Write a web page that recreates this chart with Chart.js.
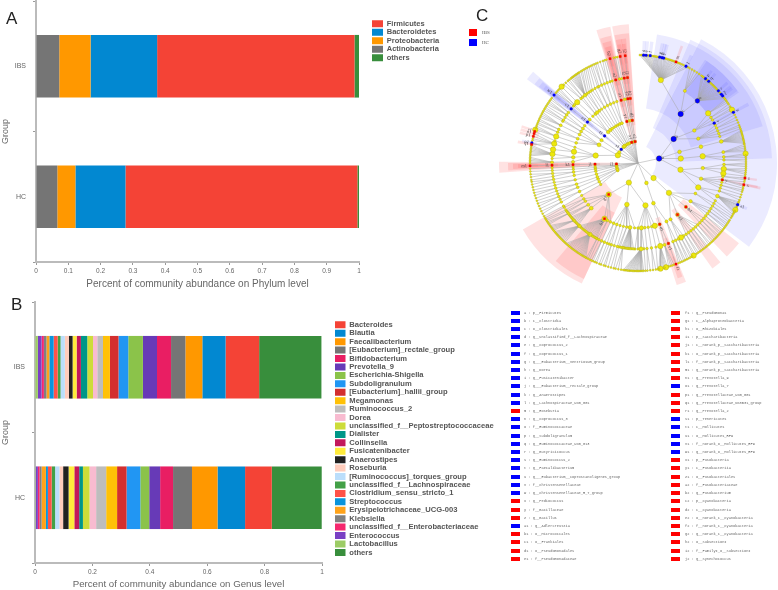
<!DOCTYPE html>
<html>
<head>
<meta charset="utf-8">
<title>Community abundance and LEfSe cladogram</title>
<script src="https://cdn.jsdelivr.net/npm/chart.js@4"></script>
<style>
  html, body { margin: 0; background: #fff; overflow: hidden; }
  body { width: 778px; height: 590px; position: relative; font-family: "Liberation Sans", sans-serif; }
  canvas { position: absolute; }
  .panel { position: absolute; font-size: 17px; line-height: 17px; color: #222; }
  .row { position: absolute; height: 8px; white-space: pre; font: 3.65px/8px "Liberation Mono", monospace; color: #666; }
  .swatch { position: absolute; width: 9px; height: 4px; top: 2px; }
  .key { position: absolute; width: 8px; height: 7px; }
  .keytext { position: absolute; font: 5px/7px "Liberation Serif", serif; color: #555; }
</style>
</head>
<body>
<canvas id="phylumChart" width="460" height="290" style="left:0;top:0"></canvas>
<canvas id="genusChart" width="500" height="295" style="left:0;top:295px"></canvas>
<canvas id="cladeChart" width="320" height="320" style="left:478px;top:3px"></canvas>
<div class="panel" style="left:6px;top:10px">A</div>
<div class="panel" style="left:11px;top:296px">B</div>
<div class="panel" style="left:476px;top:7px">C</div>
<div id="features"></div>
<script>
// panel A
const groups = ['IBS', 'HC'];
const phylumNames = ['Firmicutes', 'Bacteroidetes', 'Proteobacteria', 'Actinobacteria', 'others'];
const phylumIBS = [0.611, 0.206, 0.097, 0.072, 0.014];
const phylumHC = [0.718, 0.155, 0.056, 0.066, 0.005];
const phylumColors = ['#F44336', '#0288D1', '#FF9800', '#757575', '#388E3C'];

// panel B
const genusNames = ['Bacteroides', 'Blautia', 'Faecalibacterium', '[Eubacterium]_rectale_group', 'Bifidobacterium',
  'Prevotella_9', 'Escherichia-Shigella', 'Subdoligranulum', '[Eubacterium]_hallii_group', 'Megamonas',
  'Ruminococcus_2', 'Dorea', 'unclassified_f__Peptostreptococcaceae', 'Dialister', 'Collinsella',
  'Fusicatenibacter', 'Anaerostipes', 'Roseburia', '[Ruminococcus]_torques_group', 'unclassified_f__Lachnospiraceae',
  'Clostridium_sensu_stricto_1', 'Streptococcus', 'Erysipelotrichaceae_UCG-003', 'Klebsiella',
  'unclassified_f__Enterobacteriaceae', 'Enterococcus', 'Lactobacillus', 'others'];
const genusIBS = [0.117, 0.081, 0.059, 0.050, 0.049, 0.049, 0.051, 0.034, 0.030, 0.024, 0.020, 0.015, 0.020, 0.022,
  0.015, 0.014, 0.013, 0.014, 0.015, 0.010, 0.014, 0.015, 0.010, 0.009, 0.008, 0.013, 0.010, 0.217];
const genusHC = [0.093, 0.096, 0.089, 0.066, 0.045, 0.038, 0.031, 0.048, 0.033, 0.038, 0.035, 0.023, 0.023, 0.013,
  0.017, 0.020, 0.019, 0.013, 0.015, 0.012, 0.013, 0.007, 0.015, 0.007, 0.006, 0.007, 0.003, 0.174];
const genusColors = ['#F44336', '#0288D1', '#FF9800', '#757575', '#E91E63', '#673AB7', '#8BC34A', '#2196F3', '#D32F2F',
  '#FFC107', '#BDBDBD', '#F8BBD0', '#CDDC39', '#009688', '#C2185B', '#FFEB3B', '#212121', '#FFCCBC', '#BBDEFB',
  '#43A047', '#FF5248', '#0A94DC', '#FFA31A', '#808080', '#F5286E', '#7A40C4', '#9CCC65', '#388E3C'];

// panel C list, 'I' = IBS, 'H' = HC
const featuresLeft = ['a : p__Firmicutes', 'b : c__Clostridia', 'c : o__Clostridiales', 'd : g__unclassified_f__Lachnospiraceae',
  'e : g__Coprococcus_2', 'f : g__Coprococcus_1', 'g : g___Eubacterium__ventriosum_group', 'h : g__Dorea',
  'i : g__Fusicatenibacter', 'j : g___Eubacterium__rectale_group', 'k : g__Anaerostipes', 'l : g__Lachnospiraceae_UCG_001',
  'm : g__Roseburia', 'n : g__Coprococcus_3', 'o : f__Ruminococcaceae', 'p : g__Subdoligranulum',
  'q : g__Ruminococcaceae_UCG_013', 'r : g__Butyricicoccus', 's : g__Ruminococcus_2', 't : g__Faecalibacterium',
  'u : g___Eubacterium__coprostanoligenes_group', 'v : f__Christensenellaceae', 'w : g__Christensenellaceae_R_7_group',
  'x : g__Pediococcus', 'y : f__Bacillaceae', 'z : g__Bacillus', 'a1 : g__Adlercreutzia', 'b1 : o__Micrococcales',
  'c1 : o__Frankiales', 'd1 : o__Pseudomonadales', 'e1 : f__Pseudomonadaceae'];
const featuresLeftGroup = 'HHHHHHHHHHHHIHHHHHHHHHHIIIHIIII';
const featuresRight = ['f1 : g__Pseudomonas', 'g1 : c__Alphaproteobacteria', 'h1 : o__Rhizobiales', 'i1 : p__Saccharibacteria',
  'j1 : c__norank_p__Saccharibacteria', 'k1 : o__norank_p__Saccharibacteria', 'l1 : f__norank_p__Saccharibacteria',
  'm1 : g__norank_p__Saccharibacteria', 'n1 : g__Prevotella_9', 'o1 : g__Prevotella_7', 'p1 : g__Prevotellaceae_UCG_001',
  'q1 : g__Prevotellaceae_NK3B31_group', 'r1 : g__Prevotella_2', 's1 : p__Tenericutes', 't1 : c__Mollicutes',
  'u1 : o__Mollicutes_RF9', 'v1 : f__norank_o__Mollicutes_RF9', 'w1 : g__norank_o__Mollicutes_RF9', 'x1 : p__Fusobacteria',
  'y1 : c__Fusobacteriia', 'z1 : o__Fusobacteriales', 'a2 : f__Fusobacteriaceae', 'b2 : g__Fusobacterium',
  'c2 : p__Cyanobacteria', 'd2 : c__Cyanobacteria', 'e2 : o__norank_c__Cyanobacteria', 'f2 : f__norank_c__Cyanobacteria',
  'g2 : g__norank_c__Cyanobacteria', 'h2 : o__SubsectionI', 'i2 : f__FamilyI_o__SubsectionI', 'j2 : g__Synechococcus'];
const featuresRightGroup = 'IIIIIIIIIHIIIHHHHHIIIIIIIIIIIII';

// panel C tree, angles in degrees clockwise from the top, [parent, [children]]
const phylumAngles = [78, 134, 157, 205, 250, 254, 258, 262, 264, 267.5, 291, 300, 309, 318, 322, 326, 330, 334, 338, 343, 347, 350, 352.5];
const classFans = [[78, [56, 75, 84, 99]], [134, [134]], [157, [159]], [205, [170, 195, 223]], [250, [240, 244]], [254, [248, 251]],
  [258, [255]], [262, [259, 262]], [264, [264, 266]], [267.5, [268.5]], [291, [280, 295]], [300, [302]], [309, [309]], [318, [316]],
  [322, [320, 323]], [326, [326]], [330, [329, 332]], [334, [335]], [338, [338]], [343, [345]], [347, [348]], [350, [350]], [352.5, [352.4]]];
const orderFans = [[56, [41, 60, 68]], [75, [75.5]], [84, [84]], [99, [94.5, 104, 112]], [134, [118, 126, 132.5, 142.6, 150]],
  [159, [154, 160.5]], [170, [165, 168, 171, 174, 177, 180]], [195, [183, 187, 190, 193, 196, 199, 202]],
  [223, [205, 208, 211, 226, 230, 234, 236.5]], [240, [240]], [244, [244]], [248, [248]], [251, [251]], [255, [255]], [259, [259]],
  [262, [262]], [264, [264.5]], [266, [266.5]], [268.5, [268.5]], [280, [271, 275, 280, 284]], [295, [288, 292, 296, 299]],
  [302, [302, 305]], [309, [309]], [316, [312, 316, 319]], [320, [321]], [323, [323.5]], [326, [326]], [329, [329]], [332, [332]],
  [335, [335]], [338, [338, 341]], [345, [345]], [348, [348]], [350, [349.5]], [352.4, [351, 353.2]]];
const familyFans = [[41, [15.4, 33, 43.7]], [60, [54.7, 58, 60, 62.4]], [68, [64, 66, 68, 70, 72]], [75.5, [75.5]], [84, [82.7, 86, 88]],
  [94.5, [91, 94, 97]], [104, [99, 101.3, 103, 105, 107]], [112, [109, 112.6, 116]], [118, [118, 120]], [126, [122, 124, 126, 128]],
  [132.5, [130, 132, 134]], [142.6, [136, 138, 140, 142, 144, 146]], [150, [148, 150, 152]], [154, [154, 156]], [160.5, [159.3, 162]],
  [165, [165]], [168, [168]], [171, [171]], [174, [174]], [177, [176, 178]], [180, [180, 182]],
  [187, [183, 184, 185, 185.8, 186.5, 187.2, 188, 188.8, 189.5, 190.2, 191]], [190, [192, 193]], [193, [194]], [196, [196]],
  [199, [198, 199.5]], [202, [201, 203]], [205, [205]], [208, [207, 208.5]],
  [211, [209, 210, 211, 212, 213, 214, 215, 216, 217, 218, 219, 220, 221, 222, 223]],
  [226, [224, 225, 226, 227, 228, 229, 230, 231]], [230, [232, 233, 234]], [234, [235, 236]], [236.5, [237, 239]],
  [240, [240]], [244, [243, 245]], [248, [247, 249]], [251, [251, 253]], [255, [255, 257]], [259, [259]], [262, [261, 263]],
  [264.5, [265]], [266.5, [266.8]], [268.5, [268.5]], [271, [270.5]], [275, [273, 276]], [280, [279, 283]], [284, [285]],
  [288, [288]], [292, [291, 293]], [296, [296]], [299, [299, 300]], [302, [302, 304]], [305, [306]], [309, [309]],
  [312, [311.5, 312.5]], [316, [315]], [319, [318.5, 320]], [321, [322]], [323.5, [323.5, 325]], [326, [326.5]], [329, [328, 330]],
  [332, [332, 333]], [335, [335, 337]], [338, [339]], [341, [341, 342.5]], [345, [345]], [348, [347.5]], [349.5, [349]],
  [351, [350.8]], [353.2, [353]]];
const genusFans = [[15.4, [1, 1.8, 2.5, 3, 3.7, 4.3, 5, 5.7, 6.5, 7.2, 8, 8.7, 9.4, 10, 10.8, 11.6, 12.3, 12.9, 13.8, 14.5, 15.2, 16, 16.8, 17.5, 18.3, 19, 19.8, 20.6, 21.4, 22.2, 23, 24, 25, 26.4, 27.5]],
  [33, [28.5, 30, 31.5, 33, 34.5]],
  [43.7, [36, 36.8, 37.5, 38.7, 39.5, 40.2, 40.9, 41.6, 42.4, 43.2, 44, 44.7, 45.5, 46.3, 47.2, 48.1, 48.9, 49.7, 50.5, 51.6, 52.5, 53.4]],
  [54.7, [54, 55, 56]], [58, [57, 58.5]], [60, [59.5, 60.5]], [62.4, [62]], [64, [63.5]], [66, [65, 66.5]], [68, [68]], [70, [69.5, 70.5]], [72, [71.5]],
  [75.5, [72.5, 73.2, 73.9, 74.6, 75.3, 76, 76.7, 77.4, 78.1, 78.8, 79.5]], [82.7, [80, 81, 82, 83, 84]], [86, [85, 86, 87]], [88, [88, 89]],
  [91, [90, 91, 92]], [94, [93, 94, 95, 96]], [97, [97]], [99, [98, 99]], [101.3, [100, 101.6, 102.5]], [103, [103.5]], [105, [104.5, 105.5]], [107, [107]],
  [109, [108.5, 110]], [112.6, [111, 111.7, 112.7, 113, 113.7, 114.4, 115, 115.7, 116.4, 117, 117.7]], [116, [118.5]], [118, [119.5]], [120, [120.5, 122]],
  [122, [123]], [124, [124, 125]], [126, [126, 127]], [128, [128, 129]], [130, [130, 131]], [132, [132, 133]], [134, [134, 135]], [136, [136, 137]],
  [138, [138, 139]], [140, [140, 141]], [142, [142, 143]], [144, [144, 145]], [146, [146, 147]], [148, [148, 149]], [150, [150, 151]], [152, [152, 153]],
  [154, [154, 155]], [156, [156, 157, 158]], [159.3, [159.4]], [162, [160.5, 161.5, 162.5, 163.5]], [165, [164.2, 165, 165.8, 166.5, 167.2, 168, 168.8]],
  [168, [169.5]], [171, [170.5, 172]], [174, [173.5, 175]], [176, [176]],
  [178, [177, 177.7, 178.4, 179, 179.7, 180.4, 181, 181.7, 182.4, 183, 183.7, 184.4, 185, 185.7, 186.4, 187, 187.8]],
  [190.2, [189, 190.5, 192]], [193, [193]], [194, [194.5]], [196, [196]], [198, [197.5, 198.5]], [199.5, [200]], [201, [201]], [203, [202.5, 203.5]],
  [205, [204.5, 205.5]], [207, [206.5]], [208.5, [207.5, 208.5]],
  [214, [209, 209.8, 210.6, 211.4, 212.2, 213, 213.8, 214.6, 215.4, 216.2, 217, 217.8, 218.6, 219.4, 220.2, 221, 221.8]],
  [223, [222.6, 223.4, 224.2, 225, 225.8, 226.6, 227.4, 228.2, 229, 229.8, 230.6]], [228, [231.4, 232.2, 233, 233.8, 234.6]],
  [234, [235.4, 236.2, 237]], [236, [237.8]], [237, [238.6]], [239, [239.4]], [240, [240.5]], [243, [242, 243.5]], [245, [245]], [247, [246.5, 248]],
  [249, [249.5]], [251, [251]], [253, [252.5, 254]], [255, [255.5]], [257, [257]], [259, [258.5, 260]], [261, [261]], [263, [262.5, 264]], [265, [265.5]],
  [266.8, [267]], [268.5, [268.5]], [270.5, [269.8, 270.6, 271.4, 272.2, 273]], [276, [273.8, 274.6, 275.4, 276.2, 277, 277.8, 278.6, 279.4]],
  [279, [280.7]], [283, [279.9, 282, 283, 284.3, 285.8]], [285, [287]], [288, [288, 289, 290]], [291, [291, 292]], [293, [293, 294]],
  [296, [295, 296, 297, 298]], [299, [299]], [300, [300, 301]], [302, [302]], [304, [303, 304, 305]], [306, [306, 307]], [309, [309]],
  [311.5, [310.5, 311.5]], [312.5, [312.5, 313.5]], [315, [315]], [318.5, [316.5, 318]], [320, [319.5, 320.5]],
  [322, [321.5, 322.3, 323, 323.7, 324.4, 325, 325.7, 326.4, 327]], [323.5, [328, 329]], [325, [330]], [326.5, [331]], [328, [332]], [330, [333]],
  [332, [334]], [333, [335]], [335, [336, 337]], [337, [338]], [339, [339.5, 341]], [341, [342]], [342.5, [343]], [345, [345]], [347.5, [347, 348]],
  [349, [349]], [350.8, [350.5]], [353, [353.2]]];
// [level, angle] of nodes drawn larger than their leaf count gives
const abundantNodes = [[5, 288], [5, 315], [5, 149], [5, 165], [5, 168], [5, 115.7], [5, 60.5], [5, 85], [4, 54.7], [4, 94], [4, 97], [4, 165], [4, 150],
  [4, 283], [4, 279], [4, 276], [4, 288], [4, 315], [3, 84], [3, 280], [3, 112], [3, 165], [2, 84], [2, 99], [2, 134], [2, 170], [2, 280], [1, 205], [1, 134], [1, 291]];

// [level, angle, letter]
const hcNodes = [[1, 78, 'a'], [2, 56, 'b'], [3, 41, 'c'], [4, 43.7, 'o'], [5, 3, 'd'], [5, 4.3, 'e'], [5, 6.5, 'f'], [5, 11.6, 'g'], [5, 12.9, 'h'],
  [5, 13.8, 'i'], [5, 26.4, 'j'], [5, 38.7, 'p'], [5, 40.9, 'q'], [5, 48.1, 'r'], [5, 50.5, 's'], [5, 51.6, 't'], [4, 62.4, 'v'], [5, 62, 'w'],
  [5, 112.7, 'a1'], [5, 280.7, 'o1'], [1, 309, 's1'], [2, 309, 't1'], [3, 309, 'u1'], [4, 309, 'v1'], [5, 309, 'w1']];
const ibsNodes = [[5, 20.6, 'm'], [5, 98, 'z'], [5, 101.6, 'x'], [4, 101.3, 'y'], [3, 132.5, 'b1'], [3, 142.6, 'c1'], [3, 160.5, 'd1'], [4, 159.3, 'e1'],
  [5, 159.4, 'f1'], [2, 223, 'g1'], [3, 211, 'h1'], [1, 267.5, 'i1'], [2, 268.5, 'j1'], [3, 268.5, 'k1'], [4, 268.5, 'l1'], [5, 268.5, 'm1'],
  [5, 285.8, 'n1'], [5, 284.3, 'p1'], [5, 279.9, 'q1'], [5, 287, 'r1'], [1, 343, 'x1'], [2, 345, 'y1'], [3, 345, 'z1'], [4, 345, 'a2'], [5, 345, 'b2'],
  [1, 352.5, 'c2'], [2, 352.4, 'd2'], [3, 351, 'e2'], [4, 350.8, 'f2'], [5, 350.5, 'g2'], [3, 353.2, 'h2'], [4, 353, 'i2'], [5, 353.2, 'j2']];

// shaded clades: [from angle, to angle, inner radius, outer radius]
const hcWedges = [[27, 127, 18, 139], [23, 88, 38, 134], [8.4, 73.6, 55, 130], [33, 55, 85, 123], [34, 54, 85, 123],
  [307, 311, 18, 139], [307.3, 310.7, 38, 130], [307.6, 310.4, 58, 125], [308, 310, 80, 120], [308.3, 309.7, 100, 115],
  [2.2, 3.8, 106, 122], [3.6, 5.2, 106, 122], [5.7, 7.3, 106, 122], [10.8, 12.4, 106, 122], [12.1, 13.7, 106, 122], [13, 14.6, 106, 122],
  [25.6, 27.2, 106, 120], [38, 39.4, 106, 118], [40.2, 41.6, 106, 118], [47.4, 48.8, 106, 120], [49.8, 51.2, 106, 120], [50.9, 52.3, 106, 120],
  [61.2, 62.8, 80, 125], [112, 113.5, 103, 118], [280, 281.5, 103, 118]];
const ibsWedges = [[20, 21.2, 105, 125], [100.8, 102, 82, 122], [101, 102.2, 103, 125], [97.5, 98.6, 103, 120],
  [128.5, 136.5, 58, 129], [140.3, 144.8, 58, 129], [158, 162.4, 58, 128], [158.6, 161, 80, 122], [159, 160, 100, 115],
  [205, 240, 38, 133], [205, 220, 55, 128], [266, 270.5, 18, 139], [266.7, 270, 38, 130], [267.3, 269.7, 58, 125], [267.6, 269.4, 80, 120], [268, 269, 100, 115],
  [285.2, 286.6, 103, 122], [283.7, 285, 103, 122], [279.3, 280.6, 103, 122], [286.8, 288, 103, 122],
  [342.6, 348.5, 18, 139], [343, 348, 38, 130], [343.5, 347.5, 58, 125], [344, 347, 80, 120], [344.5, 346, 100, 115],
  [349.3, 356.2, 18, 139], [349.6, 356, 38, 130], [349.8, 352.5, 58, 125], [352.3, 354.5, 58, 125], [350, 352, 80, 120], [352.3, 354, 80, 120], [350, 351.3, 100, 115], [352.5, 354, 100, 115]];

const levelRadius = [0, 21.6, 43, 65, 86, 108];

// stacked bars: everything but "others" stacks from the end of the legend backwards
function barChart(id, names, ibs, hc, colors, box) {
  const stackOrder = names.map((n, i) => i).slice(0, -1).reverse().concat(names.length - 1);
  return new Chart(document.getElementById(id), {
    type: 'bar',
    data: {
      labels: groups,
      datasets: stackOrder.map(i => ({
        label: names[i],
        data: [ibs[i], hc[i]],
        backgroundColor: colors[i],
        barPercentage: 0.48,
        categoryPercentage: 1
      }))
    },
    options: {
      indexAxis: 'y',
      responsive: false,
      animation: false,
      layout: { autoPadding: false, padding: { top: box.top, right: box.width - box.right, left: 0, bottom: 0 } },
      scales: {
        x: {
          stacked: true,
          min: 0,
          max: 1,
          ticks: { stepSize: box.step, color: '#666', font: { size: box.tickSize, family: 'Liberation Sans' }, padding: 2, maxRotation: 0,
            callback: v => String(+v.toFixed(1)) },
          grid: { drawOnChartArea: false, tickLength: 3, color: '#999' },
          border: { color: '#bbb', width: 2 },
          title: { display: true, text: box.title, color: '#666', font: { size: box.titleSize, family: 'Liberation Sans' }, padding: { top: 2, bottom: 0 } },
          afterFit: s => { s.height = box.axisHeight; }
        },
        y: {
          stacked: true,
          ticks: { color: '#666', font: { size: 7, family: 'Liberation Sans' }, padding: 7 },
          grid: { drawOnChartArea: false, offset: true, tickLength: 3, color: '#999' },
          border: { color: '#bbb', width: 2 },
          title: { display: true, text: 'Group', color: '#666', font: { size: 9, family: 'Liberation Sans' }, padding: 0 },
          // the tick padding would otherwise push the plot down
          afterFit: s => { s.width = box.left; s.paddingTop = 0; s.paddingBottom = 0; }
        }
      },
      plugins: {
        tooltip: { enabled: false },
        legend: {
          position: 'chartArea',
          align: 'start',
          labels: {
            boxWidth: box.keyWidth,
            boxHeight: 7,
            padding: box.rowGap,
            color: '#555',
            font: { size: box.legendSize, weight: 'bold', family: 'Liberation Sans', lineHeight: 1 },
            sort: (a, b) => names.indexOf(a.text) - names.indexOf(b.text)
          }
        }
      }
    },
    plugins: [{
      id: 'placeLegend',
      afterLayout(chart) {
        const lg = chart.legend;
        lg.left = box.legendX - lg.options.labels.padding;
        lg.top = box.legendY - lg.options.labels.padding;
        lg.right = chart.width;
        lg.bottom = chart.height;
        lg.width = lg.right - lg.left;
        lg.height = lg.bottom - lg.top;
      }
    }]
  });
}

barChart('phylumChart', phylumNames, phylumIBS, phylumHC, phylumColors, {
  width: 460, left: 36, right: 359, top: 1, axisHeight: 28, step: 0.1, tickSize: 6.5, titleSize: 10,
  title: 'Percent of community abundance on Phylum level',
  keyWidth: 11, rowGap: 1, legendSize: 7.5, legendX: 372, legendY: 20
});
barChart('genusChart', genusNames, genusIBS, genusHC, genusColors, {
  width: 500, left: 35, right: 322, top: 7, axisHeight: 27, step: 0.2, tickSize: 6.5, titleSize: 9.7,
  title: 'Percent of community abundance on Genus level',
  keyWidth: 10.5, rowGap: 0.83, legendSize: 7.6, legendX: 335, legendY: 26
});

// cladogram
const toXY = (r, a) => ({ x: r * Math.sin(a * Math.PI / 180), y: r * Math.cos(a * Math.PI / 180) });
const levels = [null, phylumAngles.map(a => [null, a]), [], [], [], []];
[classFans, orderFans, familyFans, genusFans].forEach((fans, i) => {
  fans.forEach(([p, kids]) => kids.forEach(k => levels[i + 2].push([p, k])));
});

function leafCount(level, angle) {
  if (level === 5) return 1;
  const kids = levels[level + 1].filter(n => n[0] === angle);
  return kids.reduce((sum, n) => sum + leafCount(level + 1, n[1]), 0) || 1;
}
function nodeRadius(level, angle) {
  if (abundantNodes.some(n => n[0] === level && n[1] === angle)) return 2.7;
  if (level === 5) return 0.95;
  return Math.min(2.7, 0.9 + 0.3 * Math.sqrt(leafCount(level, angle)));
}

const edgePoints = [];
for (let l = 1; l <= 5; l++) {
  levels[l].forEach(([p, a]) => {
    edgePoints.push(p === null ? { x: 0, y: 0 } : toXY(levelRadius[l - 1], p), toXY(levelRadius[l], a), { x: NaN, y: NaN });
  });
}
const yellowNodes = [];
const yellowSizes = [];
for (let l = 1; l <= 5; l++) {
  levels[l].forEach(([p, a]) => {
    yellowNodes.push(toXY(levelRadius[l], a));
    yellowSizes.push(nodeRadius(l, a));
  });
}
const markData = list => list.map(([l, a]) => toXY(levelRadius[l], a));

const cladePlugin = {
  id: 'clade',
  beforeDatasetsDraw(chart) {
    const { ctx, scales: { x, y } } = chart;
    const cx = x.getPixelForValue(0), cy = y.getPixelForValue(0);
    const unit = x.getPixelForValue(1) - cx;
    const paint = (list, color) => list.forEach(([a0, a1, r0, r1]) => {
      ctx.beginPath();
      ctx.arc(cx, cy, r1 * unit, (a0 - 90) * Math.PI / 180, (a1 - 90) * Math.PI / 180);
      ctx.arc(cx, cy, r0 * unit, (a1 - 90) * Math.PI / 180, (a0 - 90) * Math.PI / 180, true);
      ctx.closePath();
      ctx.fillStyle = color;
      ctx.fill();
    });
    paint(hcWedges, 'rgba(70,70,255,0.11)');
    paint(ibsWedges, 'rgba(255,60,60,0.15)');
  },
  afterDatasetsDraw(chart) {
    const { ctx, scales: { x, y } } = chart;
    ctx.font = '4.5px "Liberation Serif"';
    ctx.fillStyle = '#444';
    ctx.textBaseline = 'middle';
    hcNodes.concat(ibsNodes).forEach(([l, a, label]) => {
      const p = toXY(levelRadius[l] + 3, a);
      ctx.save();
      ctx.translate(x.getPixelForValue(p.x), y.getPixelForValue(p.y));
      const left = a > 180;
      ctx.rotate((a - 90 + (left ? 180 : 0)) * Math.PI / 180);
      ctx.textAlign = left ? 'right' : 'left';
      ctx.fillText(label, 0, 0);
      ctx.restore();
    });
  }
};

new Chart(document.getElementById('cladeChart'), {
  type: 'scatter',
  data: {
    datasets: [
      { data: edgePoints, showLine: true, spanGaps: false, borderColor: '#a9a9a9', borderWidth: 0.55, pointRadius: 0, order: 4 },
      { data: yellowNodes, pointRadius: yellowSizes, pointBackgroundColor: '#EDE80C', pointBorderColor: '#A8A41A', pointBorderWidth: 0.4, order: 3 },
      { label: 'HC', data: markData(hcNodes), pointRadius: hcNodes.map(([l, a]) => Math.max(1.4, nodeRadius(l, a))), pointBackgroundColor: '#0000FF', pointBorderColor: '#0000C0', pointBorderWidth: 0.2, order: 2 },
      { label: 'IBS', data: markData(ibsNodes), pointRadius: 1.6, pointStyle: 'rect', pointBackgroundColor: '#FF0000', pointBorderColor: '#D00000', pointBorderWidth: 0.2, order: 1 }
    ]
  },
  options: {
    responsive: false,
    animation: false,
    layout: { padding: 0, autoPadding: false },
    scales: {
      x: { type: 'linear', display: false, min: -160, max: 160 },
      y: { type: 'linear', display: false, min: -160, max: 160 }
    },
    plugins: { legend: { display: false }, tooltip: { enabled: false } }
  },
  plugins: [cladePlugin]
});

// feature list and the small key
const holder = document.getElementById('features');
function featureColumn(names, membership, boxX, textX) {
  names.forEach((name, i) => {
    const top = 308.5 + i * 8.21;
    const sw = document.createElement('div');
    sw.className = 'row';
    sw.style.cssText = `left:${boxX}px;top:${top}px;width:9px`;
    const box = document.createElement('div');
    box.className = 'swatch';
    box.style.background = membership[i] === 'I' ? '#FF0000' : '#0000FF';
    sw.appendChild(box);
    holder.appendChild(sw);
    const row = document.createElement('div');
    row.className = 'row';
    row.style.cssText = `left:${textX}px;top:${top}px`;
    row.textContent = name;
    holder.appendChild(row);
  });
}
featureColumn(featuresLeft, featuresLeftGroup, 510.7, 524);
featureColumn(featuresRight, featuresRightGroup, 671, 685);

[['IBS', '#FF0000', 29], ['HC', '#0000FF', 39]].forEach(([name, color, top]) => {
  const key = document.createElement('div');
  key.className = 'key';
  key.style.cssText = `left:469px;top:${top}px;background:${color}`;
  holder.appendChild(key);
  const text = document.createElement('div');
  text.className = 'keytext';
  text.style.cssText = `left:482px;top:${top}px`;
  text.textContent = name;
  holder.appendChild(text);
});
</script>
</body>
</html>
